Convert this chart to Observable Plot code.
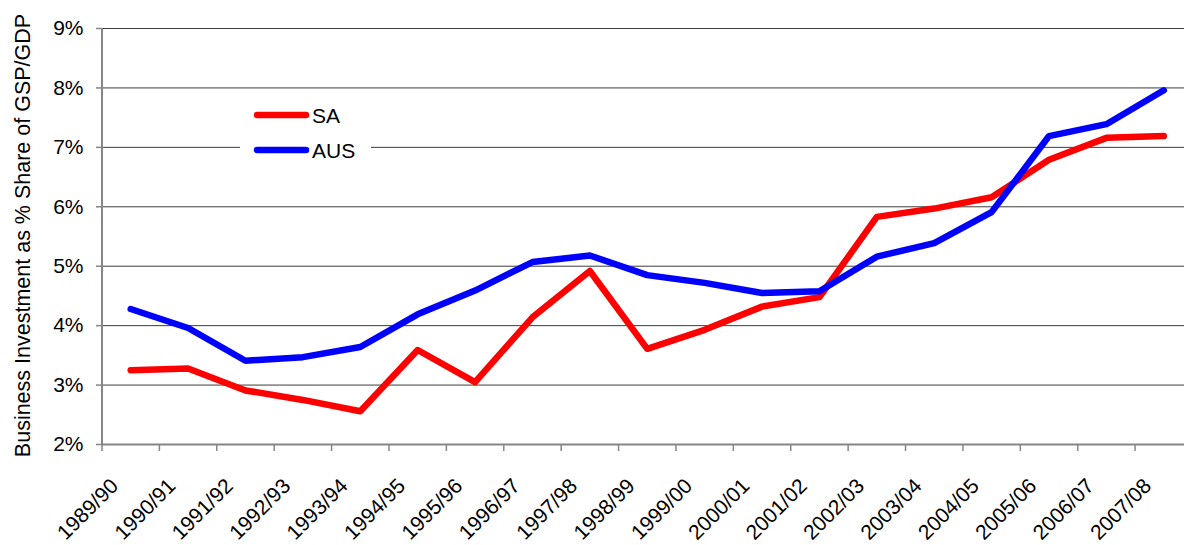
<!DOCTYPE html>
<html>
<head>
<meta charset="utf-8">
<script src="https://cdn.jsdelivr.net/npm/d3@7"></script>
<script src="https://cdn.jsdelivr.net/npm/@observablehq/plot@0.6"></script>
<style>
  html, body { margin: 0; padding: 0; background: #fff; overflow: hidden; }
  #chart { width: 1184px; height: 545px; }
</style>
</head>
<body>
<div id="chart"></div>
<script>
// Financial years along the x axis
const years = [
  "1989/90", "1990/91", "1991/92", "1992/93", "1993/94", "1994/95", "1995/96",
  "1996/97", "1997/98", "1998/99", "1999/00", "2000/01", "2001/02", "2002/03",
  "2003/04", "2004/05", "2005/06", "2006/07", "2007/08"
];

// Business investment, % of GSP (South Australia)
const saValues = [
  3.25, 3.28, 2.91, 2.75, 2.56, 3.59, 3.05, 4.14, 4.92, 3.61,
  3.93, 4.32, 4.48, 5.83, 5.97, 6.16, 6.79, 7.16, 7.19
];

// Business investment, % of GDP (Australia)
const ausValues = [
  4.28, 3.96, 3.41, 3.47, 3.64, 4.19, 4.59, 5.07, 5.18, 4.85,
  4.72, 4.55, 4.58, 5.16, 5.39, 5.91, 7.19, 7.39, 7.96
];

// Percent ticks on the y axis
const yTicks = [2, 3, 4, 5, 6, 7, 8, 9];

const seriesNames = ["SA", "AUS"];
const seriesColors = ["#ff0000", "#0000ff"];

const yTitle = "Business Investment as % Share of GSP/GDP";

// Each year sits in the middle of its category slot (slot i spans i..i+1)
const rows = (vals, name) => vals.map((v, i) => ({pos: i + 0.5, year: years[i], value: v, series: name}));
const saRows = rows(saValues, "SA");
const ausRows = rows(ausValues, "AUS");
const slotEdges = d3.range(0, years.length + 1);
const slotCenters = years.map((_, i) => i + 0.5);

const font = "'Liberation Sans', Arial, sans-serif";
const axisGray = "#868686";

// Legend drawn inside the plot area on a white box
function legendMark(index, scales, values, dims) {
  const g = d3.create("svg:g");
  g.append("rect").attr("x", 240).attr("y", 98).attr("width", 131).attr("height", 70).attr("fill", "#fff");
  seriesNames.forEach((name, k) => {
    const cy = 115 + k * 35;
    g.append("line")
      .attr("x1", 257).attr("x2", 306).attr("y1", cy).attr("y2", cy)
      .attr("stroke", seriesColors[k]).attr("stroke-width", 6.5).attr("stroke-linecap", "round");
    g.append("text")
      .attr("x", 312).attr("y", cy).attr("dy", "0.36em")
      .attr("text-anchor", "start")
      .attr("font-size", 21).attr("font-family", font).attr("fill", "#000")
      .text(name);
  });
  return g.node();
}

const chart = Plot.plot({
  width: 1184,
  height: 545,
  marginLeft: 102,
  marginRight: 0,
  marginTop: 28,
  marginBottom: 101,
  style: {fontFamily: font, background: "#fff", overflow: "hidden"},
  x: {type: "linear", domain: [0, years.length], range: [101.5, 1192]},
  y: {domain: [2, 9], range: [444, 28]},
  marks: [
    // horizontal gridlines
    Plot.ruleY(yTicks.slice(1), {stroke: "#3c3c3c", strokeWidth: 1}),
    legendMark,
    // y axis with percent labels
    Plot.axisY({ticks: yTicks, tickFormat: d => d + "%", tickSize: 6, tickPadding: 13,
      fontSize: 21, stroke: axisGray, strokeWidth: 1.5, color: "#000", label: null}),
    Plot.ruleX([0], {y1: 2, y2: 9, stroke: axisGray, strokeWidth: 2}),
    Plot.ruleY([2], {stroke: axisGray, strokeWidth: 2}),
    // tick marks on category boundaries
    Plot.axisX({ticks: slotEdges, tickFormat: () => "", tickSize: 7, stroke: axisGray, strokeWidth: 1.5, label: null}),
    // rotated category labels
    Plot.axisX({ticks: slotCenters, tickFormat: p => years[Math.floor(p)], tickSize: 0, tickPadding: 38,
      dx: -16, tickRotate: -45, fontSize: 21, color: "#000", label: null}),
    // y axis title
    Plot.text([yTitle], {frameAnchor: "left", rotate: -90, dx: -79, dy: -1, textAnchor: "middle",
      fontSize: 21.5, fill: "#000"}),
    // series lines
    Plot.line(saRows, {x: "pos", y: "value", stroke: seriesColors[0], strokeWidth: 6.5,
      strokeLinecap: "round", strokeLinejoin: "round"}),
    Plot.line(ausRows, {x: "pos", y: "value", stroke: seriesColors[1], strokeWidth: 6.5,
      strokeLinecap: "round", strokeLinejoin: "round"})
  ]
});

document.getElementById("chart").appendChild(chart);
</script>
</body>
</html>
